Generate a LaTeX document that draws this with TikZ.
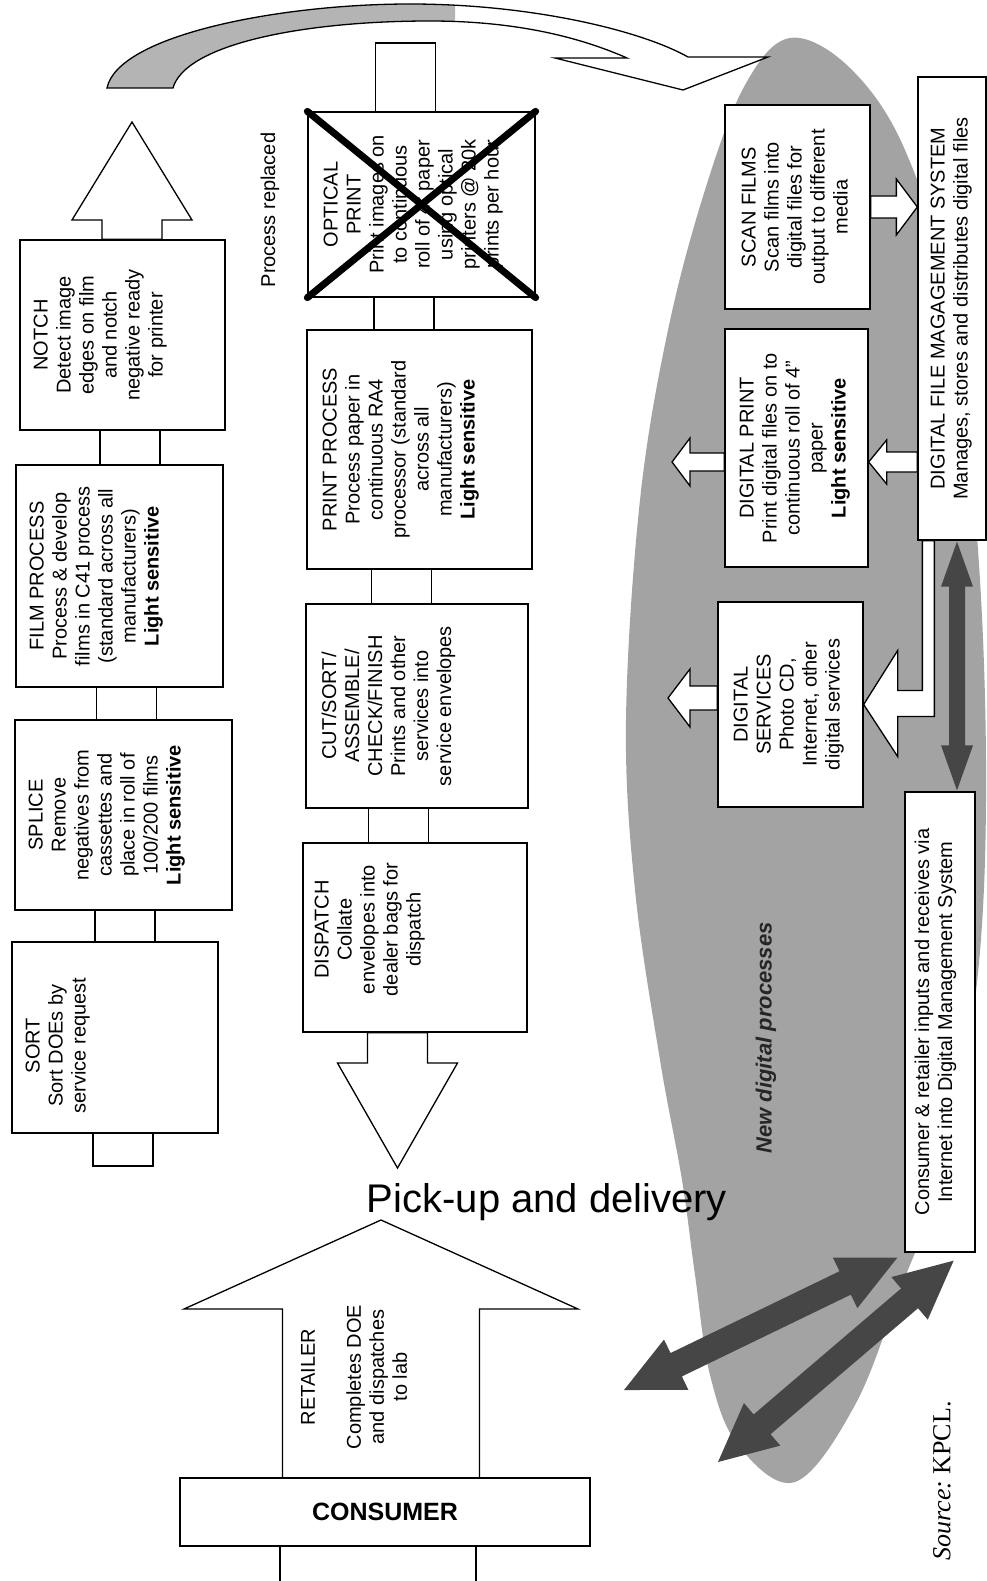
\documentclass[tikz,border=0pt]{standalone}
\usepackage{fontspec}
\setmainfont{Liberation Sans}
\newfontfamily\srcfont{Liberation Serif}
\usetikzlibrary{calc}
\definecolor{ellgray}{HTML}{A3A3A3}
\definecolor{bandgray}{HTML}{B4B4B4}
\definecolor{arrowgray}{HTML}{464646}

\tikzset{
  procbox/.style={draw, line width=1.3pt, fill=white, inner sep=0pt},
  boxtext/.style={rotate=90, anchor=north, align=center, inner sep=0pt, font=\fontsize{20}{23}\selectfont},
  linkline/.style={line width=1.3pt},
  whitearrow/.style={draw, line width=1.3pt, fill=white, line join=miter},
  darkarrow/.style={fill=arrowgray},
}

% link between two boxes of one column
\newcommand{\boxlink}[3]{%
  \coordinate (lk) at (#3,0);
  \draw[linkline] ($(#1.south -| lk)+(-30,0)$) rectangle ($(#2.north -| lk)+(30,0)$);
}
% block arrow: [style]{from}{tip}{half shaft}{half head}{head length}
\newcommand{\blockarr}[6][]{%
  \coordinate (ba-h) at ($#3!#6!#2$);
  \path[#1] ($#2!#4!90:#3$) -- ($(ba-h)!#4!90:#3$) -- ($(ba-h)!#5!90:#3$) -- #3
    -- ($(ba-h)!#5!-90:#3$) -- ($(ba-h)!#4!-90:#3$) -- ($#2!#4!-90:#3$) -- cycle;
}
% double block arrow: [style]{end}{end}{half shaft}{half head}{head length}
\newcommand{\dblarr}[6][]{%
  \coordinate (da-a) at ($#2!#6!#3$);
  \coordinate (da-b) at ($#3!#6!#2$);
  \path[#1] #2 -- ($(da-a)!#5!90:#3$) -- ($(da-a)!#4!90:#3$) -- ($(da-b)!#4!-90:#2$)
    -- ($(da-b)!#5!-90:#2$) -- #3 -- ($(da-b)!#5!90:#2$) -- ($(da-b)!#4!90:#2$)
    -- ($(da-a)!#4!-90:#3$) -- ($(da-a)!#5!-90:#3$) -- cycle;
}
\def\arcband{(107,88) .. controls (118,35) and (280,4) .. (410,4) .. controls (530,4) and (640,30) .. (688,57)
  -- (768,57) -- (683,90) -- (555,58) -- (627,58) .. controls (575,35) and (510,21) .. (430,21)
  .. controls (300,21) and (185,45) .. (173,88) -- cycle}

\begin{document}
\begin{tikzpicture}[x=1pt,y=-1pt]
  \useasboundingbox (0,0) rectangle (987,1581);

  % digital area
  \fill[ellgray] plot[smooth cycle, tension=0.6] coordinates {(790,38) (850,68) (905,150) (950,300) (978,550)
    (986,800) (975,1000) (940,1180) (900,1290) (855,1405) (795,1482) (738,1445) (710,1375) (695,1275) (682,1180)
    (660,1060) (635,890) (626,720) (640,500) (668,330) (705,190) (745,85)};

  % curved arrow over the top
  \fill[white] \arcband;
  \begin{scope}
    \clip (0,0) rectangle (455,120);
    \fill[bandgray] \arcband;
  \end{scope}
  \draw[line width=1.3pt, line join=miter] \arcband;

  % boxes of the first column
  \node[procbox, minimum width=205pt, minimum height=190pt] (notch) at (122.5,335) {};
  \node[procbox, minimum width=207pt, minimum height=222pt] (film) at (119.5,576) {};
  \node[procbox, minimum width=217pt, minimum height=190pt] (splice) at (123.5,815) {};
  \node[procbox, minimum width=206pt, minimum height=191pt] (sort) at (115,1037.5) {};

  % boxes of the second column
  \node[procbox, minimum width=227pt, minimum height=185pt] (optical) at (421.5,204.5) {};
  \node[procbox, minimum width=225pt, minimum height=239pt] (print) at (419.5,449.5) {};
  \node[procbox, minimum width=222pt, minimum height=204pt] (cut) at (417,706) {};
  \node[procbox, minimum width=224pt, minimum height=189pt] (dispatch) at (415,937.5) {};

  % digital boxes
  \node[procbox, minimum width=145pt, minimum height=204pt] (scan) at (797.5,207) {};
  \node[procbox, minimum width=143pt, minimum height=238pt] (dprint) at (796.5,448) {};
  \node[procbox, minimum width=145pt, minimum height=205pt] (dserv) at (790.5,704.5) {};
  \node[procbox, minimum width=68pt, minimum height=463pt] (dfms) at (952,308.5) {};
  \node[procbox, minimum width=70pt, minimum height=460pt] (cons) at (940,1022) {};

  % links
  \boxlink{notch}{film}{130}
  \boxlink{film}{splice}{126.5}
  \boxlink{splice}{sort}{125}
  \coordinate (sorttail) at (123,1166);
  \draw[linkline] ($(sort.south -| sorttail)+(-30,0)$) rectangle ($(sorttail)+(30,0)$);
  \coordinate (stubtop) at (405.5,43);
  \draw[linkline] ($(stubtop)+(-30,0)$) rectangle ($(optical.north -| stubtop)+(30,0)$);
  \boxlink{optical}{print}{404}
  \boxlink{print}{cut}{401.5}
  \boxlink{cut}{dispatch}{398.5}

  % big arrows
  \coordinate (ntip) at (132,122);
  \blockarr[whitearrow]{(notch.north -| ntip)}{(ntip)}{30pt}{60pt}{98pt}
  \coordinate (dtip) at (397.5,1168);
  \blockarr[whitearrow]{(dispatch.south -| dtip)}{(dtip)}{30pt}{60pt}{105pt}
  \coordinate (rtip) at (381,1220);
  \blockarr[whitearrow]{(381,1480)}{(rtip)}{98.5pt}{197pt}{89pt}
  \coordinate (ctail) at (378,1583);
  \draw[linkline] (280,1546) -- (ctail -| 280,0) (476,1546) -- (ctail -| 476,0);
  \node[procbox, minimum width=410pt, minimum height=68pt, font=\fontsize{25}{28}\selectfont\bfseries]
    (consumer) at (385,1512) {CONSUMER};

  % small arrows in the digital area
  \blockarr[whitearrow]{(scan.east)}{(dfms.west |- scan.east)}{11pt}{28pt}{21pt}
  \coordinate (dp-in) at ($(dprint.east)+(0,14)$);
  \blockarr[whitearrow]{(dfms.west |- dp-in)}{(dp-in)}{10pt}{22pt}{18pt}
  \coordinate (dp-out) at (672,462);
  \blockarr[whitearrow]{(dprint.west |- dp-out)}{(dp-out)}{9pt}{24pt}{18pt}
  \coordinate (ds-out) at (668,698);
  \blockarr[whitearrow]{(dserv.west |- ds-out)}{(ds-out)}{12pt}{29pt}{22pt}
  \draw[whitearrow] ($(dfms.south west)+(5,0)$) |- ($(dserv.east)+(34,-14)$) -- ($(dserv.east)+(34,-54)$)
    -- (dserv.east) -- ($(dserv.east)+(34,52)$) -- ($(dserv.east)+(34,12)$) -| ($(dfms.south west)+(17,0)$) -- cycle;
  \dblarr[darkarrow]{($(dfms.south)+(5,1)$)}{($(cons.north)+(17,-1)$)}{8pt}{16pt}{45pt}
  \coordinate (uarr) at (624,1390);
  \coordinate (larr) at (718,1462);
  \dblarr[darkarrow]{($(cons.south west)+(-7,5)$)}{(uarr)}{13pt}{28pt}{58pt}
  \dblarr[darkarrow]{($(cons.south east)+(-22,8)$)}{(larr)}{13pt}{28pt}{58pt}

  % texts
  \node[boxtext] (notch-txt) at ([xshift=14pt]notch.west) {NOTCH\\Detect image\\edges on film\\and notch\\negative ready\\for printer};
  \node[boxtext] (film-txt) at ([xshift=14pt]film.west) {FILM PROCESS\\Process \& develop\\films in C41 process\\(standard across all\\manufacturers)\\\textbf{Light sensitive}};
  \node[boxtext] (splice-txt) at ([xshift=14pt]splice.west) {SPLICE\\Remove\\negatives from\\cassettes and\\place in roll of\\100/200 films\\\textbf{Light sensitive}};
  \node[boxtext] (sort-txt) at ([xshift=14pt,yshift=-8pt]sort.west) {SORT\\Sort DOEs by\\service request};
  \node[boxtext] (optical-txt) at ([xshift=16pt]optical.west) {OPTICAL\\PRINT\\Print images on\\to continuous\\roll of 4" paper\\using optical\\printers @ 20k\\prints per hour};
  \node[boxtext] (print-txt) at ([xshift=16pt]print.west) {PRINT PROCESS\\Process paper in\\continuous RA4\\processor (standard\\across all\\manufacturers)\\\textbf{Light sensitive}};
  \node[boxtext] (cut-txt) at ([xshift=16pt]cut.west) {CUT/SORT/\\ASSEMBLE/\\CHECK/FINISH\\Prints and other\\services into\\service envelopes};
  \node[boxtext] (dispatch-txt) at ([xshift=12pt,yshift=8pt]dispatch.west) {DISPATCH\\Collate\\envelopes into\\dealer bags for\\dispatch};
  \node[boxtext] (scan-txt) at ([xshift=17pt]scan.west) {SCAN FILMS\\Scan films into\\digital files for\\output to different\\media};
  \node[boxtext] (dprint-txt) at ([xshift=15pt]dprint.west) {DIGITAL PRINT\\Print digital files on to\\continuous roll of 4"\\paper\\\textbf{Light sensitive}};
  \node[boxtext] (dserv-txt) at ([xshift=16pt]dserv.west) {DIGITAL\\SERVICES\\Photo CD,\\Internet, other\\digital services};
  \node[boxtext] (dfms-txt) at ([xshift=13pt]dfms.west) {DIGITAL FILE MAGAGEMENT SYSTEM\\Manages, stores and distributes digital files};
  \node[boxtext] (cons-txt) at ([xshift=10pt]cons.west) {Consumer \& retailer inputs and receives via\\Internet into Digital Management System};
  \node[boxtext] (ret-txt) at (301,1377) {RETAILER\\[23pt]Completes DOE\\and dispatches\\to lab};
  \node[rotate=90, font=\fontsize{20}{23}\selectfont] (repl) at (270,210) {Process replaced};
  \node[font=\fontsize{40}{44}\selectfont, anchor=base] (pickup) at (547,1212) {Pick-up and delivery};
  \node[rotate=90, font=\fontsize{22}{25}\selectfont\itshape\bfseries, text=black!85] (newdig) at (766,1038) {New digital processes};
  \node[rotate=90, font=\srcfont\fontsize{26}{30}\selectfont] (src) at (942,1481) {\textit{Source:}\ KPCL.};

  % replaced process
  \draw[line width=7pt, line cap=round] (optical.north west) -- (optical.south east)
    (optical.south west) -- (optical.north east);
\end{tikzpicture}
\end{document}
